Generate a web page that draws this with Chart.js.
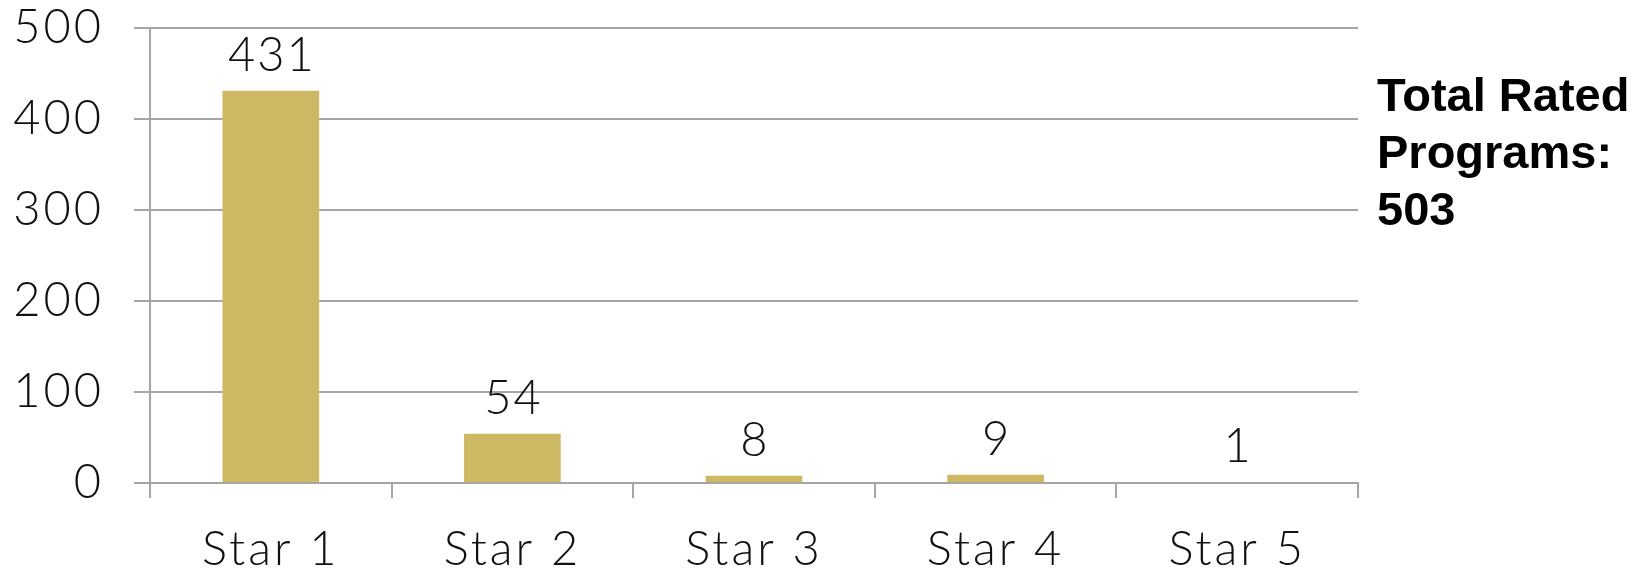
<!DOCTYPE html>
<html>
<head>
<meta charset="utf-8">
<script src="https://cdn.jsdelivr.net/npm/chart.js@4"></script>
<style>
  html, body { margin: 0; padding: 0; background: #fff; }
  #wrap { position: relative; width: 1649px; height: 570px; }
  #total {
    position: absolute; left: 1377px; top: 66px;
    font-family: "Liberation Sans", Arial, sans-serif; font-weight: bold;
    font-size: 47px; line-height: 57px; color: #000;
  }
</style>
</head>
<body>
<div id="wrap">
  <canvas id="chart" width="1649" height="570"></canvas>
  <div id="total">Total Rated<br>Programs:<br>503</div>
</div>
<script>
const categories = ['Star 1', 'Star 2', 'Star 3', 'Star 4', 'Star 5']
const programCounts = [431, 54, 8, 9, 1]
const yTicks = [0, 100, 200, 300, 400, 500]

const tickFont = { family: 'Lato', size: 47, weight: 300 }

// wider tracking, like the original light font
const spacing = {
  id: 'spacing',
  beforeDraw(chart) { chart.ctx.letterSpacing = '3px' },
}

// value labels above each bar
const valueLabels = {
  id: 'valueLabels',
  afterDatasetsDraw(chart) {
    const ctx = chart.ctx
    const meta = chart.getDatasetMeta(0)
    ctx.save()
    ctx.letterSpacing = '2px'
    ctx.font = '300 47px Lato'
    ctx.fillStyle = '#111'
    ctx.textAlign = 'center'
    ctx.textBaseline = 'alphabetic'
    meta.data.forEach((bar, i) => {
      ctx.fillText(String(programCounts[i]), bar.x + 1, bar.y - 20)
    })
    ctx.restore()
  },
}

new Chart(document.getElementById('chart'), {
  type: 'bar',
  data: {
    labels: categories,
    datasets: [
      {
        data: programCounts,
        backgroundColor: '#CDB864',
        categoryPercentage: 1,
        barPercentage: 0.4,
      },
    ],
  },
  options: {
    responsive: false,
    animation: false,
    layout: { padding: { top: 28, right: 291, left: 0, bottom: 0 } },
    plugins: { legend: { display: false }, tooltip: { enabled: false } },
    scales: {
      x: {
        grid: {
          offset: true,
          drawOnChartArea: false,
          tickLength: 15,
          color: '#a6a6a6',
          lineWidth: 2,
        },
        border: { color: '#a6a6a6', width: 2 },
        ticks: { font: tickFont, color: '#111', padding: 24, maxRotation: 0 },
        afterFit(scale) {
          scale.height = 87
          scale.paddingLeft = 0
          scale.paddingRight = 0
        },
      },
      y: {
        min: 0,
        max: 500,
        afterBuildTicks(scale) { scale.ticks = yTicks.map(v => ({ value: v })) },
        grid: { color: '#a6a6a6', lineWidth: 2, tickLength: 16 },
        border: { color: '#a6a6a6', width: 2 },
        ticks: { font: tickFont, color: '#111', padding: 30 },
        afterFit(scale) {
          scale.width = 150
          scale.paddingTop = 0
          scale.paddingBottom = 0
        },
      },
    },
  },
  plugins: [spacing, valueLabels],
})
</script>
</body>
</html>
